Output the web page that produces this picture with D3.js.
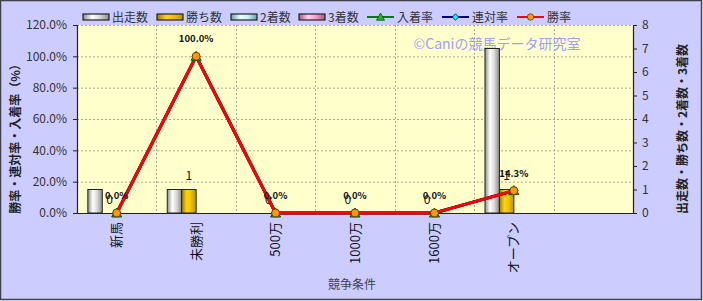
<!DOCTYPE html>
<html>
<head>
<meta charset="utf-8">
<script src="https://cdn.jsdelivr.net/npm/d3@7"></script>
<style>
  body { margin: 0; background: #fff; }
  svg text { font-family: "Noto Sans CJK JP", "Noto Sans", sans-serif; }
</style>
</head>
<body>
<div id="chart"></div>
<script>
// chart data
const categories = ['新馬', '未勝利', '500万', '1000万', '1600万', 'オープン', ''];
const runners = [1, 1, 0, 0, 0, 7, null];
const wins = [0, 1, 0, 0, 0, 1, null];
const seconds = [0, 0, 0, 0, 0, 0, null];
const thirds = [0, 0, 0, 0, 0, 0, null];
const winRate = [0, 100, 0, 0, 0, 14.3, null];
const rentaiRate = [0, 100, 0, 0, 0, 14.3, null];
const nyuchakuRate = [0, 100, 0, 0, 0, 14.3, null];
const leftTicks = [0, 20, 40, 60, 80, 100, 120];
const rightTicks = [0, 1, 2, 3, 4, 5, 6, 7, 8];

const width = 703, height = 301;
const margin = { top: 25, right: 70, bottom: 88, left: 77 };
const plotW = width - margin.left - margin.right;
const plotH = height - margin.top - margin.bottom;

const svg = d3.select('#chart').append('svg')
    .attr('width', width)
    .attr('height', height);

const defs = svg.append('defs');
const gradients = {
    runners: ['#8c8c8c', '#ffffff', '#d8d8d8', '#8a8a8a'],
    wins: ['#a07c00', '#ffd21a', '#f0c000', '#b89000'],
    seconds: ['#6aa0a0', '#e8ffff', '#c8f4f4', '#6aa0a0'],
    thirds: ['#a05a80', '#ffd0e8', '#ff99cc', '#a05a80']
};
Object.entries(gradients).forEach(([key, cols]) => {
    const grad = defs.append('linearGradient').attr('id', 'grad-' + key)
        .attr('x1', '0%').attr('x2', '100%').attr('y1', '0%').attr('y2', '0%');
    [0, 35, 65, 100].forEach((o, i) => {
        grad.append('stop').attr('offset', o + '%').attr('stop-color', cols[i]);
    });
});

// background + frame
svg.append('rect')
    .attr('x', 0.5).attr('y', 0.5)
    .attr('width', width - 2).attr('height', height - 2)
    .attr('fill', '#ccccff')
    .attr('stroke', '#404048')
    .attr('stroke-width', 1.5);

const g = svg.append('g')
    .attr('transform', `translate(${margin.left},${margin.top})`);

g.append('rect')
    .attr('width', plotW).attr('height', plotH)
    .attr('fill', '#ffffcc');

// scales
const x = d3.scaleBand().domain(d3.range(categories.length)).range([0, plotW]);
const bw = x.bandwidth();
const barW = bw / 5.5;
const series = ['runners', 'wins', 'seconds', 'thirds'];
const xs = d3.scaleBand().domain(series).range([0.75 * barW, bw - 0.75 * barW]);
const yL = d3.scaleLinear().domain([0, 120]).range([plotH, 0]);
const yR = d3.scaleLinear().domain([0, 8]).range([plotH, 0]);

// gridlines
g.append('g').selectAll('line')
    .data(leftTicks.slice(1))
    .join('line')
    .attr('x1', 0).attr('x2', plotW)
    .attr('y1', d => yL(d) + 0.5).attr('y2', d => yL(d) + 0.5)
    .attr('stroke', '#a8a898')
    .attr('stroke-dasharray', '2,2');
g.append('g').selectAll('line')
    .data(d3.range(1, categories.length))
    .join('line')
    .attr('x1', d => Math.round(x(d)) + 0.5).attr('x2', d => Math.round(x(d)) + 0.5)
    .attr('y1', 0).attr('y2', plotH)
    .attr('stroke', '#a8a898')
    .attr('stroke-dasharray', '2,2');

// watermark
g.append('text')
    .attr('x', 497 - margin.left).attr('y', 49 - margin.top)
    .attr('text-anchor', 'middle')
    .attr('font-size', 14)
    .attr('fill', '#a0a0f8')
    .text('©Caniの競馬データ研究室');

// bars
const barData = { runners, wins, seconds, thirds };
series.forEach(s => {
    g.append('g').selectAll('rect')
        .data(barData[s].map((v, i) => ({ v, i })).filter(d => d.v !== null && d.v > 0))
        .join('rect')
        .attr('x', d => x(d.i) + xs(s))
        .attr('y', d => yR(d.v))
        .attr('width', xs.bandwidth())
        .attr('height', d => plotH - yR(d.v))
        .attr('fill', `url(#grad-${s})`)
        .attr('stroke', '#222')
        .attr('stroke-width', 1);
});

// win count labels
g.append('g').selectAll('text')
    .data(wins.map((v, i) => ({ v, i })).filter(d => d.v !== null))
    .join('text')
    .attr('x', d => x(d.i) + xs('wins') + xs.bandwidth() / 2)
    .attr('y', d => yR(d.v) - 9.5)
    .attr('text-anchor', 'middle')
    .attr('font-size', 12)
    .attr('fill', '#111')
    .text(d => d.v);

// axes
const axisL = g.append('g')
    .call(d3.axisLeft(yL).tickValues(leftTicks).tickSize(4).tickFormat(d => d.toFixed(1) + '%'));
const axisR = g.append('g')
    .attr('transform', `translate(${plotW},0)`)
    .call(d3.axisRight(yR).tickValues(rightTicks).tickSize(4).tickFormat(d3.format('d')));
const axisB = g.append('g')
    .attr('transform', `translate(0,${plotH})`)
    .call(d3.axisBottom(x).tickSize(0).tickFormat(i => categories[i]));
[axisL, axisR, axisB].forEach(a => {
    a.select('.domain').attr('stroke', '#222').attr('stroke-width', 1.2);
    a.selectAll('.tick line').attr('stroke', '#222');
    a.selectAll('text').attr('font-size', 12).attr('fill', '#333')
        .attr('font-family', '"Noto Sans CJK JP", sans-serif');
});
axisL.selectAll('text').attr('x', -10);
axisR.selectAll('text').attr('x', 9).attr('text-anchor', 'start');
axisB.selectAll('text')
    .attr('transform', 'rotate(-90)')
    .attr('text-anchor', 'end')
    .attr('x', -9).attr('y', 0).attr('dy', '0.35em')
    .attr('font-size', 13)
    .attr('fill', '#111');

// lines
const line = d3.line()
    .defined(d => d !== null)
    .x((d, i) => x(i) + bw / 2)
    .y(d => yL(d));
const lineSeries = [
    { vals: nyuchakuRate, color: '#008000', marker: 'tri' },
    { vals: rentaiRate, color: '#000080', marker: 'dia' },
    { vals: winRate, color: '#ff0000', marker: 'circ' }
];
lineSeries.forEach(s => {
    g.append('path')
        .datum(s.vals)
        .attr('fill', 'none')
        .attr('stroke', s.color)
        .attr('stroke-width', 3)
        .attr('d', line);
});

function marker(sel, type) {
    if (type === 'tri') {
        sel.append('path').attr('d', 'M0,-5L5,4L-5,4Z')
            .attr('fill', '#22bb22').attr('stroke', '#005500').attr('stroke-width', 1);
    } else if (type === 'dia') {
        sel.append('path').attr('d', 'M0,-4L4,0L0,4L-4,0Z')
            .attr('fill', '#00ffff').attr('stroke', '#000060').attr('stroke-width', 1);
    } else {
        sel.append('circle').attr('r', 4)
            .attr('fill', '#ff9900').attr('stroke', '#6a3c00').attr('stroke-width', 1);
    }
}
lineSeries.forEach(s => {
    g.append('g').selectAll('g')
        .data(s.vals.map((v, i) => ({ v, i })).filter(d => d.v !== null))
        .join('g')
        .attr('transform', d => `translate(${x(d.i) + bw / 2},${yL(d.v)})`)
        .each(function () { marker(d3.select(this), s.marker); });
});

// win rate labels
g.append('g').selectAll('text')
    .data(winRate.map((v, i) => ({ v, i })).filter(d => d.v !== null))
    .join('text')
    .attr('x', d => x(d.i) + bw / 2)
    .attr('y', d => yL(d.v) - 14)
    .attr('text-anchor', 'middle')
    .attr('font-size', 9.5)
    .attr('font-weight', 'bold')
    .attr('fill', '#111')
    .text(d => d.v.toFixed(1) + '%');

// axis titles
svg.append('text')
    .attr('transform', 'translate(20,136) rotate(-90)')
    .attr('text-anchor', 'middle')
    .attr('font-size', 12)
    .attr('font-weight', 'bold')
    .attr('fill', '#222')
    .text('勝率・連対率・入着率（%）');
svg.append('text')
    .attr('transform', 'translate(687,129) rotate(-90)')
    .attr('text-anchor', 'middle')
    .attr('font-size', 12)
    .attr('font-weight', 'bold')
    .attr('fill', '#222')
    .text('出走数・勝ち数・2着数・3着数');
svg.append('text')
    .attr('x', 352).attr('y', 289)
    .attr('text-anchor', 'middle')
    .attr('font-size', 12)
    .attr('fill', '#444')
    .text('競争条件');

// legend
const legendBars = [
    { key: 'runners', label: '出走数', x: 83 },
    { key: 'wins', label: '勝ち数', x: 157 },
    { key: 'seconds', label: '2着数', x: 231 },
    { key: 'thirds', label: '3着数', x: 299 }
];
const legendLines = [
    { label: '入着率', color: '#008000', marker: 'tri', x: 367 },
    { label: '連対率', color: '#000080', marker: 'dia', x: 442 },
    { label: '勝率', color: '#ff0000', marker: 'circ', x: 517 }
];
const leg = svg.append('g');
legendBars.forEach(d => {
    leg.append('rect')
        .attr('x', d.x).attr('y', 14).attr('width', 26).attr('height', 6)
        .attr('fill', `url(#grad-${d.key})`)
        .attr('stroke', '#222').attr('stroke-width', 1.2);
    leg.append('text')
        .attr('x', d.x + 29).attr('y', 21.5)
        .attr('font-size', 12).attr('fill', '#333')
        .text(d.label);
});
legendLines.forEach(d => {
    leg.append('line')
        .attr('x1', d.x).attr('x2', d.x + 27)
        .attr('y1', 17).attr('y2', 17)
        .attr('stroke', d.color).attr('stroke-width', 2);
    const m = leg.append('g').attr('transform', `translate(${d.x + 13.5},17) scale(0.8)`);
    marker(m, d.marker);
    leg.append('text')
        .attr('x', d.x + 30).attr('y', 21.5)
        .attr('font-size', 12).attr('fill', '#333')
        .text(d.label);
});
</script>
</body>
</html>
